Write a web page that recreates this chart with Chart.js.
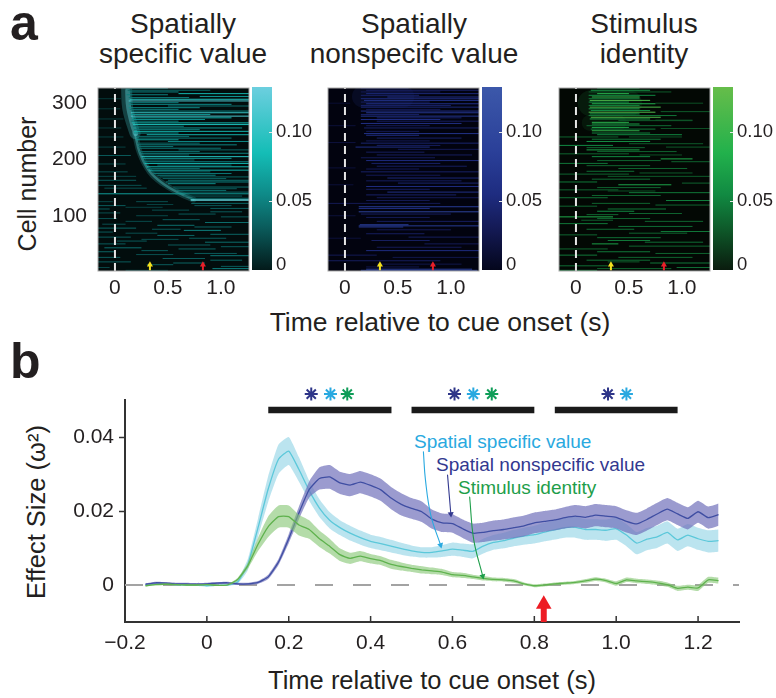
<!DOCTYPE html>
<html>
<head>
<meta charset="utf-8">
<title>Effect size by time</title>
<script src="https://cdn.jsdelivr.net/npm/chart.js@4/dist/chart.umd.min.js"></script>
<style>
  html, body { margin: 0; padding: 0; background: #fff; }
  body { position: relative; width: 776px; height: 698px; overflow: hidden; font-family: "Liberation Sans", Arial, sans-serif; color: #231f20; }
  canvas { position: absolute; }
  .txt { position: absolute; white-space: nowrap; line-height: 1; }
  .c { transform: translate(-50%, -50%); }
  .l { transform: translateY(-50%); }
  .r { transform: translate(-50%, -50%) rotate(-90deg); }
</style>
</head>
<body>

<div class="txt" style="left:10px;top:-2px;font-size:50px;font-weight:bold">a</div>
<div class="txt" style="left:10px;top:336px;font-size:50px;font-weight:bold">b</div>

<div class="txt c" style="left:183px;top:24px;font-size:28px">Spatially</div>
<div class="txt c" style="left:183px;top:54px;font-size:28px">specific value</div>
<div class="txt c" style="left:414px;top:24px;font-size:28px">Spatially</div>
<div class="txt c" style="left:414px;top:54px;font-size:28px">nonspecifc value</div>
<div class="txt c" style="left:644px;top:24px;font-size:28px">Stimulus</div>
<div class="txt c" style="left:644px;top:54px;font-size:28px">identity</div>

<div class="txt r" style="left:27px;top:184px;font-size:25px">Cell number</div>
<div class="txt c" style="left:440px;top:322px;font-size:26.5px">Time relative to cue onset (s)</div>
<div class="txt r" style="left:37px;top:512px;font-size:25.5px">Effect Size (ω²)</div>
<div class="txt c" style="left:432px;top:681px;font-size:25.5px">Time relative to cue onset (s)</div>

<div class="txt l" style="left:414px;top:441px;font-size:19px;color:#29a9e0">Spatial specific value</div>
<div class="txt l" style="left:436px;top:464px;font-size:19px;color:#32388f">Spatial nonspecific value</div>
<div class="txt l" style="left:458px;top:487px;font-size:19px;color:#1e9e4a">Stimulus identity</div>

<script>
// ---------- panel a: heat maps, rows are [cell, tStart, tEnd, level] ----------
const specificRows = [
  [326,.1,.5,.03],[323,.12,.9,.035],[320,.13,.6,.05],[317,.6,1.27,.08],[315,.11,.5,.05],[312,.8,1.27,.065],
  [310,.13,.7,.045],[307,.14,1.27,.095],[304,.13,1.27,.115],[301,.14,.6,.045],[298,.13,1.1,.055],[295,.5,1.27,.04],
  [292,.13,.8,.055],[289,.14,.6,.045],[286,.15,1.27,.05],[283,.15,1.27,.105],[280,.15,.9,.065],[277,.15,1.27,.115],
  [274,.16,1.1,.075],[271,.16,.85,.055],[268,.15,.6,.045],[265,.16,1.27,.08],[262,.17,1.27,.09],[259,.17,.65,.045],
  [256,.17,1.2,.06],[253,.18,.8,.045],[250,.18,1.27,.08],[247,.18,.6,.055],[244,.3,1.27,.075],[241,.2,.7,.04],
  [238,.2,1.1,.045],[235,.2,.6,.065],[232,.5,1.27,.055],[229,.21,.8,.035],[226,.22,1.15,.05],[223,.22,.55,.04],
  [220,.23,1,.045],[217,.6,1.27,.035],[214,.23,.8,.04],[211,.24,1.27,.05],[208,.25,.7,.035],[205,.25,1.27,.095],
  [202,.26,1.1,.06],[199,.28,.75,.035],[196,.27,1.27,.045],[193,.28,1.27,.085],[190,.4,1.1,.035],[187,.3,1.27,.08],
  [184,.3,.8,.035],[181,.32,1.27,.075],[178,.34,.9,.035],[175,.36,1.1,.045],[172,.4,.95,.05],[169,.42,1.27,.035],
  [166,.45,1.05,.035],[163,-.16,.2,.03],[163,.5,1.27,.04],[160,.48,1.27,.05],[157,.5,.95,.055],[154,-.16,.25,.025],
  [151,.55,1.27,.04],[148,.56,1.15,.03],[145,.58,1.05,.04],[142,.6,1.27,.035],[139,-.16,1.27,.065],[135,.65,1.2,.03],
  [131,.7,1.27,.04],[178,-.16,.12,.025],[192,-.16,.1,.022],[207,-.16,.15,.03],[222,-.16,.1,.018],[240,-.16,.08,.018],
  [256,-.16,.06,.015],[272,-.16,.08,.016],[290,-.16,.05,.014],[308,-.16,.06,.014],[170,-.16,.2,.02],[149,-.1,.3,.025],
  [125,-.16,-.02,.02],[125,.2,.5,.025],[122,.72,1.27,.035],[120,.3,.55,.018],[118,-.16,.1,.03],[118,.75,1.1,.028],
  [115,.1,.45,.018],[113,.9,1.27,.03],[112,-.16,-.05,.03],[110,.35,.7,.025],[107,.9,1.2,.03],[105,-.16,.05,.025],
  [103,.6,.95,.03],[100,.2,.5,.022],[98,1,1.27,.03],[95,-.16,.02,.025],[93,.45,.8,.03],[90,.1,.35,.022],
  [88,.85,1.27,.04],[85,-.12,.1,.025],[83,.4,.75,.04],[80,.75,1.1,.035],[78,-.16,.2,.035],[76,.35,.62,.028],
  [74,.65,1,.05],[71,-.16,-.02,.03],[69,.1,.4,.025],[67,.9,1.27,.035],[65,.4,.75,.035],[62,-.16,.15,.03],
  [60,.7,1.05,.03],[58,.25,.6,.025],[55,.02,.3,.03],[53,.85,1.27,.04],[50,-.16,.1,.03],[48,.5,.9,.03],
  [45,1,1.27,.03],[43,-.1,.25,.04],[41,.6,.95,.035],[38,.25,.5,.03],[36,-.16,0,.035],[33,.75,1.15,.03],
  [31,.2,.55,.025],[29,.9,1.27,.045],[26,-.16,.05,.03],[24,.45,.85,.03],[21,.9,1.2,.035],[18,-.16,.15,.03],
  [16,.55,.85,.035],[13,.3,.55,.03],[10,1,1.27,.03],[8,-.16,-.05,.02],[6,.92,1.27,.05],[3,.1,.5,.02]
];
const specificArcHalo = [[.11,327],[.115,300],[.13,282],[.165,260],[.19,246]];
const specificArcCore = [[.12,322],[.125,300],[.14,282],[.17,260],[.195,246]];
const specificArcThin = [[.19,246],[.236,211],[.33,178],[.455,157],[.61,140],[.74,129]];
const specificArcEnd = [[.72,128],[1.05,128],[1.265,128]];

const nonspecificRows = [
  [326,.15,.6,.025],[323,.2,1.27,.04],[320,.15,.9,.03],[317,.2,1.27,.05],[314,.15,.7,.04],[311,.4,1.27,.06],
  [308,.15,1.27,.05],[305,.18,1.27,.065],[302,.15,.8,.035],[299,.2,1.27,.06],[296,.15,1,.04],[293,.15,1.27,.05],
  [289,.2,.9,.03],[286,.15,1.27,.06],[283,.2,1.27,.07],[280,.15,.7,.04],[277,.15,1.27,.07],[274,.3,1.1,.04],
  [271,.15,.9,.055],[268,.3,1.27,.035],[264,.15,1.1,.06],[260,.2,.8,.03],[256,.18,1.27,.04],[250,.2,.7,.03],
  [246,.18,1.27,.065],[243,.2,.7,.055],[238,.3,1.1,.04],[233,.2,.8,.03],[229,.15,1.27,.045],[225,.3,.9,.035],
  [222,.1,.8,.06],[218,.5,1.27,.03],[213,.2,.75,.035],[208,.3,1.2,.035],[203,.15,.85,.03],[198,.2,1.27,.055],
  [193,.25,.9,.04],[188,.3,1.15,.035],[183,.2,.7,.03],[178,.15,1.27,.04],[172,.2,.9,.03],[167,.4,1.27,.05],
  [162,.2,1.1,.035],[158,.5,1.27,.045],[152,.2,1.27,.055],[147,.2,.8,.035],[142,.4,1.27,.06],[137,.2,1.05,.04],
  [132,.3,1.27,.03],[127,.2,.8,.03],[122,-.16,.9,.03],[116,.13,1.27,.08],[113,.13,.8,.06],[107,.13,1.27,.095],
  [103,.15,1,.035],[97,.2,.8,.03],[90,.3,1.27,.035],[84,.14,.6,.08],[82,.13,1.27,.08],[80,.13,.55,.07],
  [75,.3,1,.03],[68,.2,.75,.035],[62,.6,1.27,.035],[56,.25,.8,.035],[50,.75,1.27,.03],[44,.3,1.1,.03],
  [38,.2,1.27,.055],[30,-.16,.3,.03],[26,.45,1.27,.025],[20,-.16,.9,.035],[14,.3,1.1,.025],[9,.2,.7,.025],
  [5,.2,1.2,.085],[3,.15,1.25,.09],[300,-.16,.05,.012],[260,-.16,.1,.015],[230,-.16,.1,.018],[185,-.16,.1,.015],
  [155,-.16,.08,.015],[100,-.16,.1,.016],[60,-.16,.15,.015]
];
const nonspecificGlow = [[.17,312],[.35,312],[.55,312]];

const identityRows = [
  [326,.2,.6,.03],[323,.14,.7,.065],[320,.12,.9,.03],[317,.2,.5,.09],[314,.12,.75,.055],[311,.15,.6,.1],
  [308,.12,.6,.045],[305,.13,.7,.115],[302,.12,.5,.055],[299,.15,.75,.085],[296,.12,.6,.05],[293,.13,.8,.115],
  [290,.12,.6,.065],[287,.14,.7,.055],[284,.12,.75,.12],[281,.13,.6,.06],[278,.12,.95,.045],[275,.14,.8,.12],
  [272,.13,.7,.07],[269,.4,1.1,.03],[266,.15,.5,.09],[263,.15,.6,.07],[260,.1,.9,.04],[257,.15,.5,.08],
  [254,.14,.75,.045],[251,.15,.6,.095],[247,.15,.7,.05],[244,.2,1,.055],[240,-.16,.4,.035],[236,.15,.8,.045],
  [232,.1,.7,.06],[228,.5,1.2,.03],[225,-.16,.35,.055],[221,.1,.65,.035],[217,.1,.6,.075],[214,.2,.95,.035],
  [210,-.16,.5,.035],[205,.15,.7,.055],[201,.8,1.1,.08],[198,.2,.8,.035],[193,-.16,.3,.045],[189,.1,.7,.035],
  [184,.4,1.05,.035],[179,.1,.55,.04],[174,-.16,.5,.035],[170,.3,1.27,.03],[165,.15,.7,.04],[160,-.16,.2,.045],
  [155,.4,.9,.075],[150,.2,.8,.035],[146,-.16,.4,.035],[141,.5,1.27,.045],[136,.15,.8,.035],[132,-.16,.3,.04],
  [127,.85,1.27,.05],[122,.15,.7,.035],[117,-.16,.2,.035],[112,.3,.85,.045],[108,.2,.55,.055],[104,.5,1,.035],
  [98,-.16,.35,.08],[95,.2,.7,.035],[90,.65,1.2,.035],[86,-.16,.3,.045],[81,.4,1.1,.04],[76,.1,.55,.04],
  [72,.8,1.27,.045],[66,-.16,.2,.035],[61,.2,.8,.04],[56,.3,.7,.045],[50,.15,.4,.07],[46,.5,1.27,.035],
  [41,-.16,.3,.035],[36,.2,.7,.045],[30,-.16,.2,.045],[26,.4,1.1,.035],[21,.1,.7,.04],[16,.7,1.27,.045],
  [11,-.16,.3,.04],[6,.2,.9,.035],[3,-.16,.2,.045],[300,.75,1.2,.025],[285,.8,1.27,.03],[270,.75,1.1,.02],
  [255,.8,1.27,.025],[240,.5,1,.025],[222,.85,1.27,.03],[208,.6,1,.025],[196,.9,1.27,.035],[176,.6,1.1,.03],
  [158,1,1.27,.035],[144,.3,.75,.025],[119,.75,1.27,.035],[102,.1,.4,.035],[92,.05,.35,.03],[69,.5,1.05,.035],
  [53,.65,1.2,.04],[33,.75,1.27,.035],[18,.3,.6,.03],[8,.95,1.27,.04]
];
const identityGlow = [[.14,300],[.3,300],[.5,300]];
const identityGlowLow = [[.13,265],[.25,265],[.4,265]];

const specificColors = ['#031a1a', '#0a5a5a', '#0e8a88', '#14bdb6', '#6ccfdf'];
const nonspecificColors = ['#04061c', '#141a55', '#1e2c80', '#2a3f98', '#3c58aa'];
const identityColors = ['#0a1c0e', '#0e5a2a', '#118a42', '#22b14c', '#66bd4a'];
const colorStops = [0, .03, .055, .085, .133];

const heatTicksX = [0, .5, 1];
const heatTickLabelsX = ['0', '0.5', '1.0'];
const cellTicks = [100, 200, 300];
const barTicks = [.004, .05, .10];
const barTickLabels = ['0', '0.05', '0.10'];
const yellowArrowT = .33;
const redArrowT = .83;

// ---------- panel b: effect size, one value per time step ----------
const times = [-.15,-.125,-.1,-.075,-.05,-.025,0,.025,.05,.075,.1,.125,.15,.175,.2,.225,.25,.275,.3,.325,.35,.375,.4,.425,.45,.475,.5,.525,.55,.575,.6,.625,.65,.675,.7,.725,.75,.775,.8,.825,.85,.875,.9,.925,.95,.975,1,1.025,1.05,1.075,1.1,1.125,1.15,1.175,1.2,1.225,1.25];
const specificMean = [0,.0003,.0003,.0001,0,-.0001,-.0002,-.0001,0,.0008,.0055,.0155,.026,.034,.0362,.0312,.0255,.0208,.0175,.0155,.014,.0128,.0118,.0112,.0105,.0098,.0092,.0088,.0088,.0092,.0097,.0094,.0091,.0105,.0115,.012,.0127,.0132,.0136,.0143,.0149,.0155,.0156,.015,.015,.0148,.0152,.0135,.0113,.0124,.013,.0142,.0122,.0135,.0125,.0118,.012];
const specificErr = [.0002,.0002,.0002,.0002,.0002,.0002,.0002,.0002,.0002,.0005,.0015,.0025,.0035,.004,.0038,.0033,.0027,.0024,.0022,.002,.002,.0019,.0018,.0018,.0017,.0016,.0015,.0014,.0014,.0016,.0018,.0018,.0019,.002,.002,.0021,.0022,.0023,.0024,.0025,.0026,.0027,.0028,.0028,.0028,.0029,.003,.003,.003,.003,.003,.003,.003,.003,.003,.003,.003];
const nonspecificMean = [.0002,.0006,.0005,.0003,.0003,.0002,.0003,.0005,.0006,.0003,.0003,.0007,.0022,.0062,.0125,.0195,.0258,.0288,.0292,.0276,.027,.0278,.0269,.0257,.0235,.0218,.0207,.0198,.0178,.0168,.0166,.0152,.014,.0142,.0147,.015,.0155,.016,.0168,.0172,.0176,.0182,.0186,.0183,.0189,.0186,.0183,.0172,.0165,.0177,.0192,.0205,.0192,.018,.0198,.0182,.019];
const nonspecificErr = [.0003,.0003,.0003,.0003,.0003,.0003,.0003,.0003,.0003,.0003,.0003,.0004,.0006,.0008,.0012,.0017,.0022,.003,.0032,.003,.003,.003,.003,.003,.003,.003,.0028,.0028,.0026,.0025,.0025,.0025,.0026,.0026,.0027,.0027,.0028,.0028,.0028,.0028,.0028,.0029,.003,.003,.003,.003,.003,.003,.003,.003,.003,.003,.003,.003,.003,.003,.003];
const identityMean = [-.0002,.0001,.0002,.0001,0,0,.0001,-.0001,0,.0015,.0052,.011,.0158,.0185,.0185,.0162,.015,.0125,.0105,.0082,.0072,.0078,.0071,.0066,.0056,.005,.0045,.0041,.0038,.0035,.0028,.0026,.0022,.0018,.0015,.0014,.0011,.0003,-.0002,0,.0003,.0005,.0007,.0011,.0016,.0012,.0004,.0014,.0011,.0009,.0006,.0001,-.0009,-.0006,-.0008,.0014,.0012];
const identityErr = [.0002,.0002,.0002,.0002,.0002,.0002,.0002,.0002,.0002,.0004,.0008,.0018,.0028,.003,.003,.0028,.0025,.0022,.002,.0017,.0015,.0014,.0013,.0012,.0012,.0011,.001,.001,.0009,.0008,.0007,.0007,.0006,.0006,.0005,.0005,.0005,.0004,.0004,.0004,.0004,.0004,.0004,.0005,.0005,.0005,.0006,.0006,.0006,.0006,.0006,.0006,.0007,.0007,.0008,.0008,.0008];

const sigBars = [[.15, .451], [.5, .8], [.85, 1.15]];
const sigBarLevel = .0473;
const starLevel = .0516;
const nonspecificStars = [.255, .605, .98];
const specificStars = [.302, .651, 1.025];
const identityStars = [.343, .696];

const specificLeader = [[.529,.036],[.534,.0284],[.547,.0189],[.571,.0108]];
const nonspecificLeader = [[.588,.0297],[.596,.0192]];
const identityLeader = [[.642,.0238],[.652,.0122],[.674,.0024]];
const eventArrow = [[.823,-.01],[.823,-.0052]];

const xTicksB = [-.2,0,.2,.4,.6,.8,1,1.2];
const xTickLabelsB = ['\u22120.2','0','0.2','0.4','0.6','0.8','1.0','1.2'];
const yTicksB = [0,.02,.04];
const yTickLabelsB = ['0','0.02','0.04'];

const FONT = '"Liberation Sans", Arial, sans-serif';
const INK = '#231f20';
Chart.defaults.animation = false;
Chart.defaults.events = [];
Chart.defaults.font.family = FONT;
Chart.defaults.color = INK;
Chart.defaults.plugins.legend.display = false;
Chart.defaults.plugins.tooltip.enabled = false;

function mixHex(a, b, f) {
  const pa = parseInt(a.slice(1), 16), pb = parseInt(b.slice(1), 16);
  const ch = s => Math.round(((pa >> s) & 255) + (((pb >> s) & 255) - ((pa >> s) & 255)) * f);
  return `rgb(${ch(16)},${ch(8)},${ch(0)})`;
}

function levelColor(level, colors) {
  for (let i = 1; i < colorStops.length; i++) {
    if (level <= colorStops[i]) {
      return mixHex(colors[i - 1], colors[i], (level - colorStops[i - 1]) / (colorStops[i] - colorStops[i - 1]));
    }
  }
  return colors[colors.length - 1];
}

function addCanvas(left, top, w, h) {
  const c = document.createElement('canvas');
  c.width = w; c.height = h;
  c.style.left = left + 'px'; c.style.top = top + 'px';
  c.style.width = w + 'px'; c.style.height = h + 'px';
  document.body.appendChild(c);
  return c;
}

function xyPairs(pairs) {
  return pairs.map(p => ({ x: p[0], y: p[1] }));
}

function curve(pairs, color, width, extra) {
  return Object.assign({ data: xyPairs(pairs), showLine: true, borderColor: color, backgroundColor: color,
    borderWidth: width, pointRadius: 0, tension: .4, borderCapStyle: 'round' }, extra || {});
}

function noScalePadding(s) {
  s.paddingTop = 0; s.paddingBottom = 0; s.paddingLeft = 0; s.paddingRight = 0;
}

// dark plot background, soft rows and thin grey frame
const heatFrame = {
  id: 'heatFrame',
  beforeDatasetsDraw(chart) {
    const a = chart.chartArea, g = chart.ctx;
    g.save(); g.fillStyle = chart.options.plugins.heatFrame.ground;
    g.fillRect(a.left, a.top, a.width, a.height); g.restore();
    g.filter = 'blur(0.45px)';
  },
  afterDatasetsDraw(chart) {
    const a = chart.chartArea, g = chart.ctx;
    g.filter = 'none';
    g.save(); g.strokeStyle = '#a9a9a9'; g.lineWidth = 1;
    g.strokeRect(a.left, a.top, a.width, a.height); g.restore();
  }
};

function heatChart(plotLeft, rows, colors, ground, arcs, showY) {
  const datasets = [];
  datasets.push({
    data: [{ x: 0, y: 1.8 }, { x: 0, y: 327 }], showLine: true, borderColor: '#e6e6e6',
    borderWidth: 2, borderDash: [8, 5], pointRadius: 0
  });
  [[yellowArrowT, '#f2e01e'], [redArrowT, '#e8202a']].forEach(a => {
    datasets.push({
      data: [{ x: a[0], y: 3 }, { x: a[0], y: 13 }], showLine: true, borderColor: a[1], backgroundColor: a[1],
      borderWidth: 2, pointStyle: 'triangle', pointRadius: [0, 3.5], pointBorderWidth: 0
    });
  });
  rows.forEach(r => datasets.push({
    data: [{ x: r[1], y: r[0] }, { x: r[2], y: r[0] }],
    showLine: true, borderColor: levelColor(r[3], colors), borderWidth: 1, pointRadius: 0
  }));
  arcs.forEach(a => datasets.push(a));
  const canvas = addCanvas(plotLeft - 50, 84, 205, 223);
  return new Chart(canvas, {
    type: 'scatter',
    data: { datasets },
    plugins: [heatFrame],
    options: {
      responsive: false,
      layout: { padding: { top: 4, right: 4 } },
      plugins: { heatFrame: { ground } },
      scales: {
        x: {
          min: -.16, max: 1.265, grid: { display: false, drawTicks: false }, border: { display: false },
          afterBuildTicks: s => { s.ticks = heatTicksX.map(v => ({ value: v })); },
          afterFit: s => { s.height = 36; noScalePadding(s); },
          ticks: { font: { size: 21 }, padding: 5, maxRotation: 0, autoSkip: false,
            callback: v => heatTickLabelsX[heatTicksX.indexOf(v)] }
        },
        y: {
          min: 1.8, max: 327, grid: { display: false, drawTicks: false }, border: { display: false },
          afterBuildTicks: s => { s.ticks = cellTicks.map(v => ({ value: v })); },
          afterFit: s => { s.width = 50; noScalePadding(s); },
          ticks: { display: showY, font: { size: 21 }, padding: 11, autoSkip: false }
        }
      }
    }
  });
}

const barTickMarks = {
  id: 'barTickMarks',
  afterDatasetsDraw(chart) {
    const a = chart.chartArea, g = chart.ctx, s = chart.scales.y;
    g.save(); g.strokeStyle = '#e8e8e8'; g.lineWidth = 1;
    barTicks.slice(1).forEach(v => {
      const y = Math.round(s.getPixelForValue(v)) + .5;
      g.beginPath(); g.moveTo(a.right - 3, y); g.lineTo(a.right, y); g.stroke();
    });
    g.restore();
  }
};

function colorBar(left, colors) {
  const canvas = addCanvas(left, 83, 70, 197);
  return new Chart(canvas, {
    type: 'bar',
    data: {
      labels: [''],
      datasets: [{
        data: [[0, colorStops[colorStops.length - 1]]],
        barPercentage: 1, categoryPercentage: 1, borderWidth: 0,
        backgroundColor: ctx => {
          const area = ctx.chart.chartArea;
          if (!area) return colors[2];
          const s = ctx.chart.scales.y;
          const g = ctx.chart.ctx.createLinearGradient(0, s.getPixelForValue(0), 0, s.getPixelForValue(colorStops[4]));
          colorStops.forEach((v, i) => g.addColorStop(v / colorStops[4], colors[i]));
          return g;
        }
      }]
    },
    plugins: [barTickMarks],
    options: {
      responsive: false,
      layout: { padding: { top: 4, bottom: 10 } },
      scales: {
        x: { display: false },
        y: {
          position: 'right', min: 0, max: colorStops[4], grid: { display: false, drawTicks: false }, border: { display: false },
          afterBuildTicks: s => { s.ticks = barTicks.map(v => ({ value: v })); },
          afterFit: s => { s.width = 50; noScalePadding(s); },
          ticks: { font: { size: 18.5 }, padding: 4, autoSkip: false,
            callback: v => barTickLabels[barTicks.indexOf(v)] }
        }
      }
    }
  });
}

heatChart(98, specificRows, specificColors, '#020d0d', [
  curve(specificArcHalo, 'rgba(70,200,205,.28)', 11),
  curve(specificArcCore, 'rgba(100,215,225,.42)', 5),
  curve(specificArcThin, 'rgba(70,205,205,.22)', 6),
  curve(specificArcThin, 'rgba(90,215,215,.4)', 2.5),
  curve(specificArcEnd, '#62d4dc', 1.5, { tension: 0 })
], true);
heatChart(328, nonspecificRows, nonspecificColors, '#02030f', [
  curve(nonspecificGlow, 'rgba(40,55,140,.16)', 22, { tension: 0 })
], false);
heatChart(559, identityRows, identityColors, '#030804', [
  curve(identityGlow, 'rgba(30,130,55,.16)', 26, { tension: 0 }),
  curve(identityGlowLow, 'rgba(30,130,55,.12)', 16, { tension: 0 })
], false);
colorBar(252, specificColors);
colorBar(482, nonspecificColors);
colorBar(713, identityColors);

// ---------- panel b ----------
function bandSets(mean, err, lineColor, bandColor, order) {
  const upper = times.map((t, i) => ({ x: t, y: mean[i] + err[i] }));
  const lower = times.map((t, i) => ({ x: t, y: mean[i] - err[i] }));
  const middle = times.map((t, i) => ({ x: t, y: mean[i] }));
  const base = { showLine: true, pointRadius: 0, tension: .15 };
  return [
    Object.assign({}, base, { data: upper, borderWidth: 0, borderColor: 'transparent', backgroundColor: bandColor, fill: { target: '+1' }, order: order + 1 }),
    Object.assign({}, base, { data: lower, borderWidth: 0, borderColor: 'transparent', order: order + 1 }),
    Object.assign({}, base, { data: middle, borderColor: lineColor, borderWidth: 1.3, order })
  ];
}

function stars(ts, color) {
  return { data: ts.map(t => ({ x: t, y: starLevel })), pointStyle: 'star', pointRadius: 6.5, pointBorderWidth: 2,
    pointBorderColor: color, pointBackgroundColor: color, clip: false, order: 0 };
}

function leader(pairs, color, rotation) {
  const last = pairs.length - 1;
  return curve(pairs, color, 1.1, {
    order: 0, clip: false, pointStyle: 'triangle', pointRadius: pairs.map((p, i) => i === last ? 3.5 : 0),
    pointRotation: rotation, pointBorderWidth: 0, pointBackgroundColor: color
  });
}

const lineSets = [
  { data: [{ x: -.2, y: 0 }, { x: 1.3, y: 0 }], showLine: true, borderColor: '#a3a3a3', borderWidth: 2, borderDash: [18, 20], pointRadius: 0, order: 9 },
  ...bandSets(specificMean, specificErr, '#5cc8da', 'rgba(150,214,230,.65)', 5),
  ...bandSets(nonspecificMean, nonspecificErr, '#3f4ea3', 'rgba(112,112,186,.7)', 3),
  ...bandSets(identityMean, identityErr, '#5fb24e', 'rgba(130,196,112,.6)', 1),
  ...sigBars.map(b => ({ data: [{ x: b[0], y: sigBarLevel }, { x: b[1], y: sigBarLevel }], showLine: true, borderColor: '#1a1a1a', borderWidth: 6.5, pointRadius: 0, order: 0 })),
  stars(nonspecificStars, '#2e3588'),
  stars(specificStars, '#29a9e0'),
  stars(identityStars, '#0f9d58'),
  leader(specificLeader, '#29a9e0', 165),
  leader(nonspecificLeader, '#32388f', 175),
  leader(identityLeader, '#1e9e4a', 165),
  {
    data: xyPairs(eventArrow), showLine: true, borderColor: '#ed1c24', borderWidth: 6, order: 0, clip: false,
    pointStyle: 'triangle', pointRadius: [0, 9], pointBorderWidth: 0, pointBackgroundColor: '#ed1c24'
  }
];

const inwardTicks = {
  id: 'inwardTicks',
  afterDatasetsDraw(chart) {
    const a = chart.chartArea, g = chart.ctx, s = chart.scales.x;
    g.save(); g.strokeStyle = '#333'; g.lineWidth = 1.5;
    xTicksB.forEach(v => {
      const x = s.getPixelForValue(v);
      g.beginPath(); g.moveTo(x, a.bottom); g.lineTo(x, a.bottom - 6); g.stroke();
    });
    g.restore();
  }
};

new Chart(addCanvas(0, 385, 776, 277), {
  type: 'scatter',
  data: { datasets: lineSets },
  plugins: [inwardTicks],
  options: {
    responsive: false,
    layout: { padding: { top: 15, right: 37 } },
    scales: {
      x: {
        min: -.2, max: 1.3, grid: { display: false, drawTicks: false }, border: { color: '#333', width: 2 },
        afterBuildTicks: s => { s.ticks = xTicksB.map(v => ({ value: v })); },
        afterFit: s => { s.height = 40; noScalePadding(s); },
        ticks: { font: { size: 21 }, padding: 9, maxRotation: 0, autoSkip: false,
          callback: v => xTickLabelsB[xTicksB.indexOf(v)] }
      },
      y: {
        min: -.01, max: .05,
        grid: { drawOnChartArea: false, tickLength: 6, tickWidth: 1.5, tickColor: c => c.tick && c.tick.value === 0 ? 'transparent' : '#333' },
        border: { color: '#333', width: 2 },
        afterBuildTicks: s => { s.ticks = yTicksB.map(v => ({ value: v })); },
        afterFit: s => { s.width = 125; noScalePadding(s); },
        ticks: { font: { size: 21 }, padding: 5, autoSkip: false,
          callback: v => yTickLabelsB[yTicksB.indexOf(v)] }
      }
    }
  }
});
</script>
</body>
</html>
